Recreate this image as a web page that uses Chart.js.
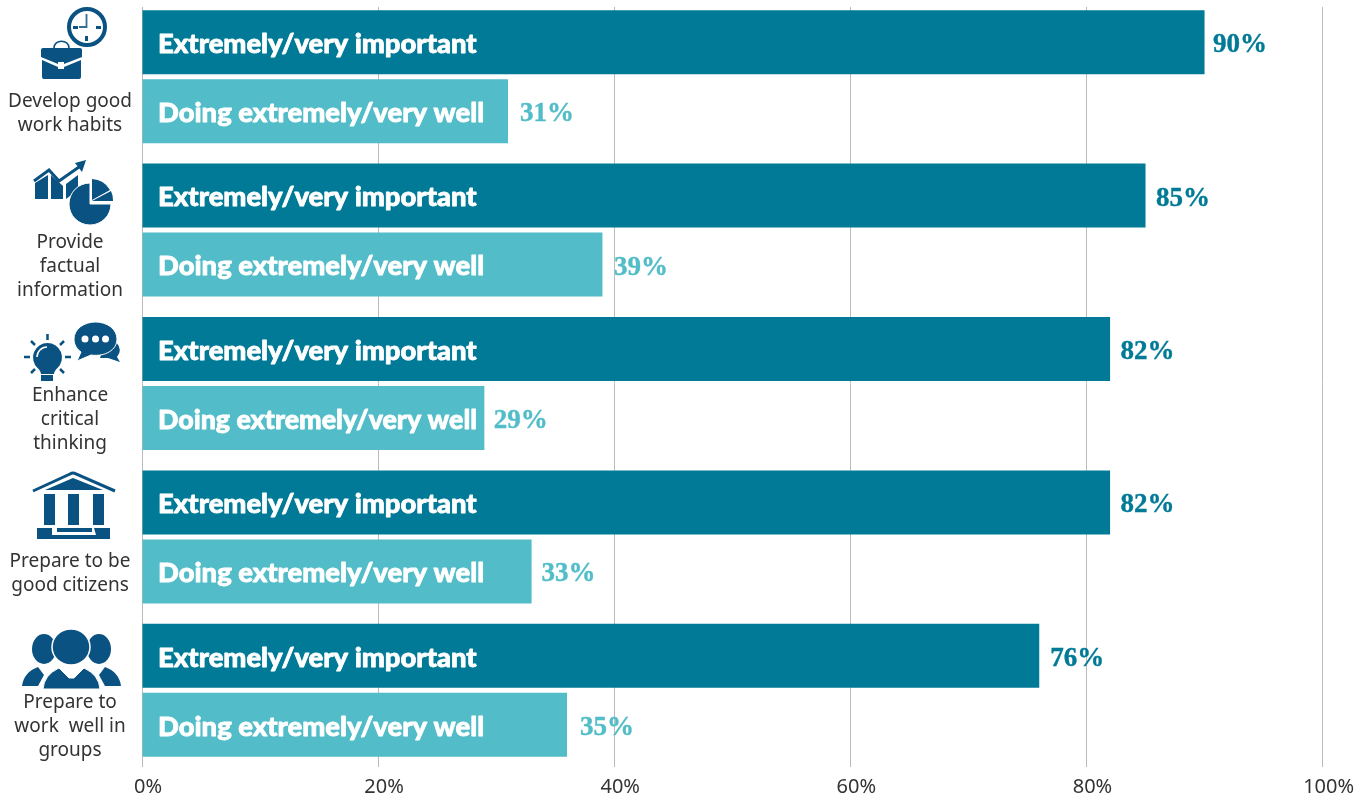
<!DOCTYPE html>
<html>
<head>
<meta charset="utf-8">
<script src="https://cdn.jsdelivr.net/npm/chart.js@4/dist/chart.umd.min.js"></script>
<style>
html,body{margin:0;padding:0;background:#fff;overflow:hidden}
#wrap{position:relative;width:1366px;height:794px}
canvas{position:absolute;left:0;top:0}
svg{position:absolute;left:0;top:0;pointer-events:none}
</style>
</head>
<body>
<div id="wrap">
<canvas id="c" width="1366" height="794"></canvas>
<svg width="1366" height="794" viewBox="0 0 1366 794">
 <g fill="#0a5282">
  <!-- clock + briefcase -->
  <circle cx="87" cy="27" r="18" fill="#fff" stroke="#0a5282" stroke-width="4"/>
  <rect x="73" y="26" width="5" height="3"/><rect x="96" y="26" width="5" height="3"/><rect x="85" y="36" width="3" height="5"/>
  <path d="M86.500 14V27H79" fill="none" stroke="#2f6f9c" stroke-width="1.800"/>
  <path d="M54 48c0-9 15-9 15 0" fill="none" stroke="#0a5282" stroke-width="1.600"/>
  <path d="M43 48H80a2 2 0 0 1 2 2V57L64 64V62H58V64L41 57V50a2 2 0 0 1 2-2Z"/>
  <path d="M42 60L58 67V69H64V67L81 60V77a2 2 0 0 1-2 2H44a2 2 0 0 1-2-2Z"/>
  <!-- chart + pie -->
  <path d="M34 181L49 170L59 181L79 167" fill="none" stroke="#0a5282" stroke-width="3"/>
  <path d="M75 163L86 160L82 172Z"/>
  <path d="M35 183L48 175V199H35Z"/><path d="M51 175L63 186V199H51Z"/><path d="M66 184L78 175V190L66 199Z"/>
  <path d="M90 183A21 21 0 1 0 111 204H90Z" stroke="#fff" stroke-width="1"/>
  <path d="M92 179A22 22 0 0 1 110 190L92 200Z"/>
  <path d="M92 201L111 191A22 22 0 0 1 113 201Z"/>
  <!-- bulb + bubbles -->
  <path d="M47.500 343a14.500 14.500 0 0 1 10 25c-2 2-3 3-3.500 6H41c-.5-3-1.500-4-3.500-6a14.500 14.500 0 0 1 10-25Z"/>
  <path d="M37 357a10 10 0 0 1 10-10" fill="none" stroke="#fff" stroke-width="1.500"/>
  <rect x="41" y="375" width="12" height="6"/>
  <g stroke="#0a5282" stroke-width="2.500" fill="none">
   <path d="M47.500 334V340M24 357H30M65 357H71M31 341L35 345M64 341L60 345M31 373L35 369M64 373L60 369"/>
  </g>
  <path d="M104 346L116 342Q123 350 117 357L120 362L108 358L100 358Z"/>
  <path d="M95.500 322C84 322 74 329 74 339C74 345 77 349 81 352L77 361L91 355C105 357 117 350 117 339C117 329 107 322 95.500 322Z" stroke="#fff" stroke-width="1"/>
  <circle cx="85" cy="339" r="3.500" fill="#fff"/><circle cx="95.500" cy="339" r="3.500" fill="#fff"/><circle cx="105.500" cy="339" r="3.500" fill="#fff"/>
  <!-- building -->
  <path d="M33 491L70 474Q73 472 76 474L115 491" fill="none" stroke="#0a5282" stroke-width="3"/>
  <path d="M45 490L73 478L103 490Z"/>
  <rect x="44" y="494" width="11" height="31"/><rect x="68" y="494" width="11" height="31"/><rect x="93" y="494" width="11" height="31"/>
  <path d="M37 528H52V535H54V539H37Z"/><path d="M94 528H110V539H94V535H96Z"/>
  <rect x="57" y="528" width="35" height="4"/><rect x="54" y="535" width="40" height="4"/>
  <!-- people -->
  <ellipse cx="44" cy="649" rx="12" ry="15"/><ellipse cx="99" cy="649" rx="12" ry="15"/>
  <path d="M22 686Q24 672 38 667L44 675L38 686Z"/><path d="M121 686Q119 672 105 667L99 675L105 686Z"/>
  <ellipse cx="71" cy="647" rx="19" ry="18" stroke="#fff" stroke-width="1.500"/>
  <path d="M43 689Q44 675 59 668L69 678H74L84 668Q99 675 100 689Z" stroke="#fff" stroke-width="1"/>
 </g>
</svg>
</div>
<script>
const categories = [
  ["Develop good","work habits"],
  ["Provide","factual","information"],
  ["Enhance","critical","thinking"],
  ["Prepare to be","good citizens"],
  ["Prepare to","work  well in","groups"]
];
const importantValues = [90, 85, 82, 82, 76];
const doingWellValues = [31, 39, 29, 33, 36];
const importantLabels = ["90%","85%","82%","82%","76%"];
const doingWellLabels = ["31%","39%","29%","33%","35%"];
const importantName = "Extremely/very important";
const doingWellName = "Doing extremely/very well";
const xTicks = [0,20,40,60,80,100];

// label gap after each bar end, by dataset and row
const labelGaps = [[8.5,10.5,10.5,10.5,11],[12,11.5,9.5,10,13]];

const barText = {
  id:'barText',
  beforeDatasetsDraw(chart){ // grid lines start just below the top edge
    const g=chart.ctx; g.save(); g.fillStyle='#fff'; g.fillRect(0,0,chart.width,7); g.restore();
  },
  afterDatasetsDraw(chart){
    const g=chart.ctx, xs=chart.scales.x;
    const sets=[[importantLabels,'#007a96'],[doingWellLabels,'#52bdc8']];
    g.save();
    g.textBaseline='middle';
    g.lineJoin='round';
    chart.data.datasets.forEach((ds,i)=>{
      chart.getDatasetMeta(i).data.forEach((bar,j)=>{
        const left=xs.getPixelForValue(0)+16, tight=(i===1&&j===2)?319:undefined;
        g.textAlign='left';
        g.fillStyle=g.strokeStyle='#fff';
        g.lineWidth=0.8;
        g.font='900 27.4px Lato';
        g.fillText(ds.label,left,bar.y+2,tight);
        g.strokeText(ds.label,left,bar.y+2,tight);
        g.fillStyle=g.strokeStyle=sets[i][1];
        g.lineWidth=0.4;
        g.font='bold 27px "Liberation Serif"';
        g.fillText(sets[i][0][j],bar.x+labelGaps[i][j],bar.y+3);
        g.strokeText(sets[i][0][j],bar.x+labelGaps[i][j],bar.y+3);
      });
    });
    g.restore();
  }
};

new Chart(document.getElementById('c'),{
  type:'bar',
  data:{labels:categories,datasets:[
    {label:importantName,data:importantValues,backgroundColor:'#007a96'},
    {label:doingWellName,data:doingWellValues,backgroundColor:'#52bdc8'}
  ]},
  plugins:[barText],
  options:{
    indexAxis:'y',responsive:false,animation:false,
    layout:{padding:{left:0,right:43.4,top:0,bottom:0}},
    categoryPercentage:0.8996,barPercentage:0.9275,
    plugins:{legend:{display:false},tooltip:{enabled:false}},
    scales:{
      x:{min:0,max:100,position:'bottom',
        afterBuildTicks(s){s.ticks=xTicks.map(v=>({value:v}));},
        afterFit(s){s.height=27;},
        grid:{color:'#bbbbbb',lineWidth:1,drawTicks:false},
        border:{display:false},
        ticks:{maxRotation:0,padding:8,labelOffset:6,color:'#333',font:{family:'"Noto Sans"',size:20},callback:v=>v+'%'}
      },
      y:{position:'left',
        afterFit(s){s.width=142;s.paddingTop=0;s.paddingBottom=0;},
        grid:{display:false,drawTicks:false},
        border:{display:false},
        ticks:{autoSkip:false,crossAlign:'center',padding:10,labelOffset:36.5,color:'#333',
          font:{family:'"Noto Sans"',size:19,lineHeight:'24px'}}
      }
    }
  }
});
</script>
</body>
</html>
